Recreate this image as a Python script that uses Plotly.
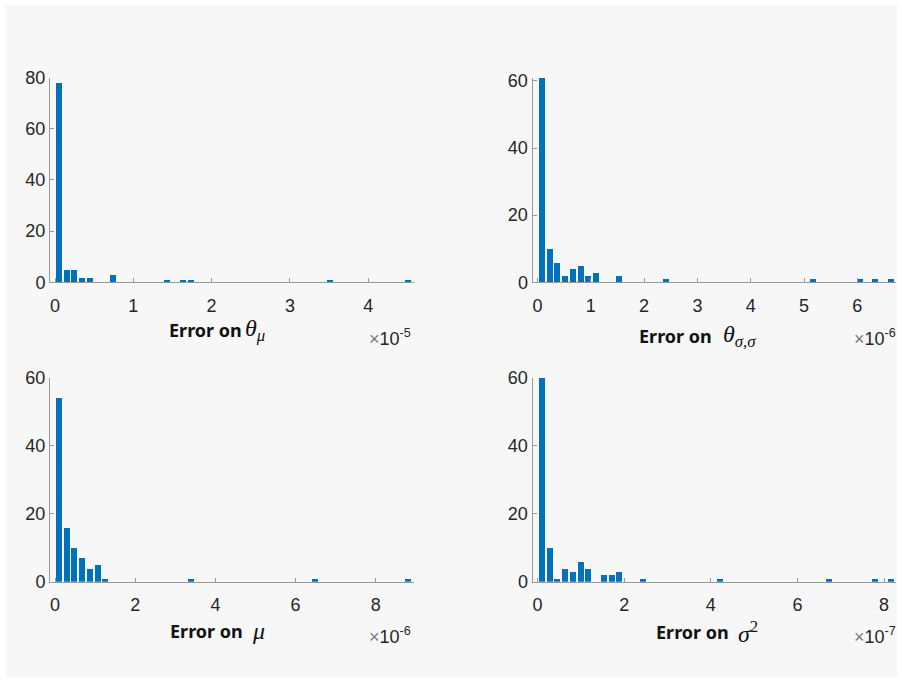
import plotly.graph_objects as go

# ---------------- data ----------------
# histogram counts (46 equal-width bins starting at 0) for each panel
counts_theta_mu = [78, 5, 5, 2, 2, 0, 0, 3, 0, 0, 0, 0, 0, 0, 1, 0, 1, 1, 0, 0,
                   0, 0, 0, 0, 0, 0, 0, 0, 0, 0, 0, 0, 0, 0, 0, 1, 0, 0, 0, 0,
                   0, 0, 0, 0, 0, 1]
counts_theta_ss = [61, 10, 6, 2, 4, 5, 2, 3, 0, 0, 2, 0, 0, 0, 0, 0, 1, 0, 0, 0,
                   0, 0, 0, 0, 0, 0, 0, 0, 0, 0, 0, 0, 0, 0, 0, 1, 0, 0, 0, 0,
                   0, 1, 0, 1, 0, 1]
counts_mu = [54, 16, 10, 7, 4, 5, 1, 0, 0, 0, 0, 0, 0, 0, 0, 0, 0, 1, 0, 0,
             0, 0, 0, 0, 0, 0, 0, 0, 0, 0, 0, 0, 0, 1, 0, 0, 0, 0, 0, 0,
             0, 0, 0, 0, 0, 1]
counts_sigma2 = [60, 10, 1, 4, 3, 6, 4, 0, 2, 2, 3, 0, 0, 1, 0, 0, 0, 0, 0, 0,
                 0, 0, 0, 1, 0, 0, 0, 0, 0, 0, 0, 0, 0, 0, 0, 0, 0, 1, 0, 0,
                 0, 0, 0, 1, 0, 1]

# bin widths, in units of the axis exponent
bin_widths = [0.0990, 0.1454, 0.1933, 0.1789]
exponents = [-5, -6, -6, -7]
y_max = [80, 61, 60, 60]
x_ticks = [[0, 1, 2, 3, 4], [0, 1, 2, 3, 4, 5, 6], [0, 2, 4, 6, 8], [0, 2, 4, 6, 8]]
y_ticks = [[0, 20, 40, 60, 80], [0, 20, 40, 60], [0, 20, 40, 60], [0, 20, 40, 60]]
label_symbols = ["<i>θ</i><sub><i>μ</i></sub>",
                 "<i>θ</i><sub><i>σ</i>,<i>σ</i></sub>",
                 "<i>μ</i>",
                 "<i>σ</i><sup>2</sup>"]
all_counts = [counts_theta_mu, counts_theta_ss, counts_mu, counts_sigma2]

# ---------------- layout helpers ----------------
W, H = 902, 682
def px(x):
    return x / W
def py(y):
    return (H - y) / H

BLUE = "#0072BD"
AXIS = "#9a9a9a"
TXT = "#262626"

x_domains = [[px(50), px(413.5)], [px(532.5), px(896)], [px(50), px(413.5)], [px(532.5), px(896)]]
y_domains = [[py(282.3), py(77.5)], [py(282.3), py(77.5)], [py(581.7), py(377.5)], [py(581.7), py(377.5)]]

fig = go.Figure()
layout = dict(
    width=W, height=H,
    margin=dict(l=0, r=0, t=0, b=0, autoexpand=False),
    paper_bgcolor="white",
    plot_bgcolor="rgba(0,0,0,0)",
    showlegend=False,
    bargap=0,
    font=dict(family="Liberation Sans, Arial, sans-serif", size=18, color=TXT),
)

for k in range(4):
    bw = bin_widths[k]
    cnt = all_counts[k]
    centers = [(i + 0.5) * bw for i in range(len(cnt))]
    sfx = "" if k == 0 else str(k + 1)
    fig.add_trace(go.Bar(
        x=centers, y=cnt, width=[0.8 * bw] * len(cnt),
        marker=dict(color=BLUE, line=dict(width=0)),
        xaxis="x" + sfx, yaxis="y" + sfx, hoverinfo="x+y",
    ))
    layout["xaxis" + sfx] = dict(
        domain=x_domains[k], anchor="y" + sfx, automargin=False,
        range=[-0.645 * bw, 46.25 * bw],
        tickvals=x_ticks[k], ticktext=[str(v) for v in x_ticks[k]],
        ticks="inside", ticklen=4, tickcolor=AXIS, tickwidth=1,
        showline=True, linecolor=AXIS, linewidth=1,
        showgrid=False, zeroline=False, ticklabelstandoff=7,
        tickfont=dict(size=18, color=TXT),
    )
    layout["yaxis" + sfx] = dict(
        domain=y_domains[k], anchor="x" + sfx, automargin=False,
        range=[0, y_max[k]],
        tickvals=y_ticks[k], ticktext=[str(v) for v in y_ticks[k]],
        ticks="inside", ticklen=4, tickcolor=AXIS, tickwidth=1,
        showline=True, linecolor=AXIS, linewidth=1,
        showgrid=False, zeroline=False,
        tickfont=dict(size=18, color=TXT),
    )

# label positions (pixels)
err_pos = [(167, 330), (637, 336), (168, 631), (654, 632)]
sym_pos = [(243, 330), (721, 336), (250, 631), (736, 632)]
exp_pos = [(413, 337), (898, 337), (413, 635), (898, 635)]

annotations = []
for k in range(4):
    ex, ey = err_pos[k]
    annotations.append(dict(
        x=px(ex), y=py(ey), xref="paper", yref="paper", xanchor="left", yanchor="middle",
        text="<b>Error on</b>", showarrow=False,
        font=dict(family="Noto Sans, sans-serif", size=18, color="#111111"),
    ))
    sx, sy = sym_pos[k]
    annotations.append(dict(
        x=px(sx), y=py(sy), xref="paper", yref="paper", xanchor="left", yanchor="middle",
        text=label_symbols[k], showarrow=False,
        font=dict(family="Liberation Serif, Times New Roman, serif", size=24, color="#111111"),
    ))
    xx, xy = exp_pos[k]
    annotations.append(dict(
        x=px(xx), y=py(xy), xref="paper", yref="paper", xanchor="right", yanchor="middle",
        text="<span style='color:#777777'>×</span>10<sup>%d</sup>" % exponents[k], showarrow=False,
        font=dict(family="Liberation Sans, Arial, sans-serif", size=18, color=TXT),
    ))

layout["annotations"] = annotations
layout["shapes"] = [dict(
    type="rect", xref="paper", yref="paper",
    x0=px(6), x1=px(897), y0=py(677), y1=py(5),
    fillcolor="#f7f7f7", line=dict(width=0), layer="below",
)]

fig.update_layout(**layout)
fig.write_html(
    "out.html",
    config={"displayModeBar": False},
    post_script="document.body.style.margin='0';document.body.style.padding='0';"
                "document.body.style.overflow='hidden';",
)
